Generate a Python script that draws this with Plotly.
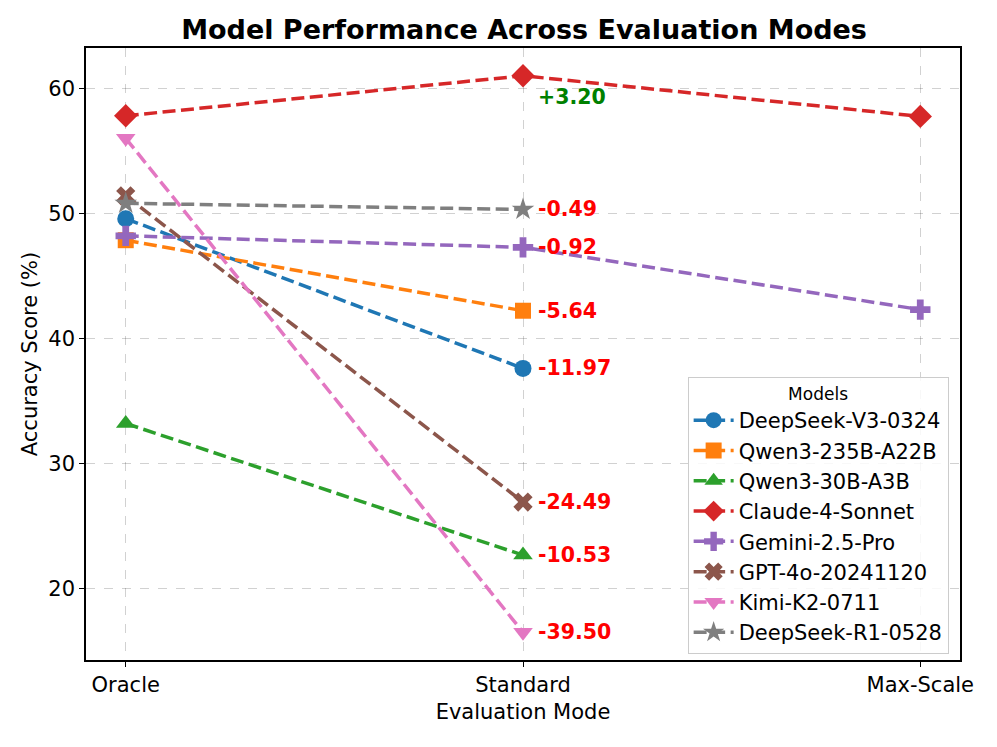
import plotly.graph_objects as go

modes = ["Oracle", "Standard", "Max-Scale"]
models = ["DeepSeek-V3-0324", "Qwen3-235B-A22B", "Qwen3-30B-A3B", "Claude-4-Sonnet",
          "Gemini-2.5-Pro", "GPT-4o-20241120", "Kimi-K2-0711", "DeepSeek-R1-0528"]
scores = {
    "DeepSeek-V3-0324": [49.57, 37.60, None],
    "Qwen3-235B-A22B": [47.85, 42.21, None],
    "Qwen3-30B-A3B": [33.20, 22.67, None],
    "Claude-4-Sonnet": [57.80, 61.00, 57.75],
    "Gemini-2.5-Pro": [48.20, 47.28, 42.30],
    "GPT-4o-20241120": [51.40, 26.91, None],
    "Kimi-K2-0711": [56.00, 16.50, None],
    "DeepSeek-R1-0528": [50.80, 50.31, None],
}
deltas = {
    "DeepSeek-V3-0324": -11.97, "Qwen3-235B-A22B": -5.64, "Qwen3-30B-A3B": -10.53,
    "Claude-4-Sonnet": 3.20, "Gemini-2.5-Pro": -0.92, "GPT-4o-20241120": -24.49,
    "Kimi-K2-0711": -39.50, "DeepSeek-R1-0528": -0.49,
}
colors = ["#1f77b4", "#ff7f0e", "#2ca02c", "#d62728", "#9467bd", "#8c564b", "#e377c2", "#7f7f7f"]
symbols = ["circle", "square", "triangle-up", "diamond", "cross", "x", "triangle-down", "star"]
sizes = [17, 16, 17, 18, 17, 17, 17, 17]

fig = go.Figure()
for i, m in enumerate(models):
    xs = [modes[j] for j, v in enumerate(scores[m]) if v is not None]
    ys = [v for v in scores[m] if v is not None]
    fig.add_trace(go.Scatter(
        x=xs, y=ys, mode="lines+markers", name=m,
        line=dict(color=colors[i], width=3.5, dash="13px,5.5px"),
        marker=dict(symbol=symbols[i], size=sizes[i], color=colors[i], line=dict(width=0)),
    ))

for i, m in enumerate(models):
    d = deltas[m]
    y = scores[m][1]
    if d > 0:
        fig.add_annotation(x="Standard", y=y, text=f"<b>+{d:.2f}</b>", showarrow=False,
                           xanchor="left", yanchor="middle", xshift=13, yshift=-21,
                           font=dict(color="green", size=20.5, family="DejaVu Sans"))
    else:
        fig.add_annotation(x="Standard", y=y, text=f"<b>{d:.2f}</b>", showarrow=False,
                           xanchor="left", yanchor="middle", xshift=13,
                           font=dict(color="red", size=20.5, family="DejaVu Sans"))

axis_common = dict(showline=True, linecolor="black", linewidth=1.5, mirror=True,
                   ticks="outside", ticklen=5, tickcolor="black",
                   showgrid=True, gridcolor="rgba(0,0,0,0.18)", griddash="dash", gridwidth=1,
                   zeroline=False, tickfont=dict(size=21, color="black"))

fig.update_layout(
    width=997, height=747,
    paper_bgcolor="white", plot_bgcolor="white",
    font=dict(family="DejaVu Sans", color="black"),
    margin=dict(l=78, r=45, t=40, b=95),
    title=dict(text="<b>Model Performance Across Evaluation Modes</b>", x=0.5176, xanchor="center",
               y=0.971, yanchor="middle", font=dict(size=27, color="black")),
    xaxis=dict(axis_common, range=[-0.1, 2.1], type="category",
               title=dict(text="Evaluation Mode", font=dict(size=21), standoff=8)),
    yaxis=dict(axis_common, range=[14.28, 63.22], tickvals=[20, 30, 40, 50, 60],
               title=dict(text="Accuracy Score (%)", font=dict(size=21), standoff=5)),
    legend=dict(x=0.987, y=0.01, xanchor="right", yanchor="bottom",
                bgcolor="rgba(255,255,255,0.85)", bordercolor="#cccccc", borderwidth=1,
                font=dict(size=21, color="black"),
                title=dict(text="Models", side="top center", font=dict(size=17)),
                tracegroupgap=0, itemwidth=40),
    showlegend=True,
)

fig.write_html("out.html")
